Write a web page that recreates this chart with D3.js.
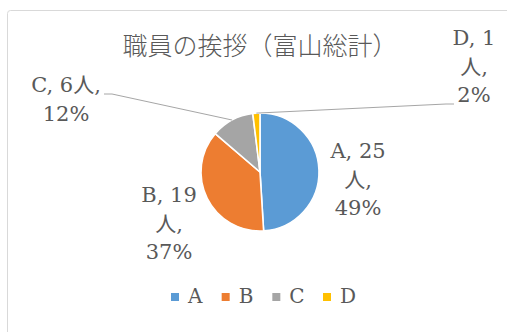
<!DOCTYPE html>
<html>
<head>
<meta charset="utf-8">
<script src="https://cdn.jsdelivr.net/npm/d3@7"></script>
<style>
  body { margin: 0; background: #fff; }
  svg { display: block; }
  text { fill: #595959; }
</style>
</head>
<body>
<div id="chart"></div>
<script>
// data
var categories = ["A", "B", "C", "D"];
var counts = [25, 19, 6, 1];
var unit = "人";
var title = "職員の挨拶（富山総計）";
var colors = ["#5B9BD5", "#ED7D31", "#A5A5A5", "#FFC000"];

var W = 507, H = 332;
var cx = 260, cy = 172, radius = 59;

// label placement relative to pie centre (x centre, first baseline)
var labelPos = {
  A: [98, -14],
  B: [-91, 30],
  C: [-194, -80],
  D: [214, -127]
};
// which parts of the label go on each line
var labelWrap = {
  A: [[0], [1], [2]],
  B: [[0], [1], [2]],
  C: [[0, 1], [2]],
  D: [[0], [1], [2]]
};
var lineH = 28.5;

var total = d3.sum(counts);
var dataset = categories.map(function(c, i) {
  return { cat: c, n: counts[i], pct: Math.round(counts[i] / total * 100) };
});

var svg = d3.select("#chart").append("svg")
  .attr("width", W)
  .attr("height", H);

// chart frame (runs past the right and bottom edge)
svg.append("rect")
  .attr("x", 7.5)
  .attr("y", 10.5)
  .attr("width", 600)
  .attr("height", 400)
  .attr("rx", 3)
  .attr("fill", "#fff")
  .attr("stroke", "#d9d9d9");

// title
svg.append("text")
  .attr("x", cx)
  .attr("y", 55)
  .attr("text-anchor", "middle")
  .style("font-family", "'Noto Sans CJK JP', sans-serif")
  .style("font-weight", 300)
  .style("font-size", "25px")
  .text(title);

var pie = d3.pie()
  .sort(null)
  .value(function(d) { return d.n; });

var arc = d3.arc()
  .innerRadius(0)
  .outerRadius(radius);

var edgeArc = d3.arc()
  .innerRadius(radius)
  .outerRadius(radius);

var color = d3.scaleOrdinal()
  .domain(categories)
  .range(colors);

var g = svg.append("g")
  .attr("transform", "translate(" + cx + "," + cy + ")");

var arcs = pie(dataset);

g.selectAll(".slice")
  .data(arcs)
.enter().append("path")
  .attr("class", "slice")
  .attr("d", arc)
  .attr("fill", function(d) { return color(d.data.cat); })
  .attr("stroke", "#fff")
  .attr("stroke-width", 1.6);

// leader lines for the outside labels (C and D), label end -> slice edge
var leaderStart = {
  C: [[-156, -78], [-148, -78]],
  D: [[194, -68], [186, -68]]
};
arcs.forEach(function(d) {
  if (!leaderStart[d.data.cat]) return;
  var pts = leaderStart[d.data.cat].concat([edgeArc.centroid(d)]);
  g.append("path")
    .attr("d", d3.line()(pts))
    .attr("fill", "none")
    .attr("stroke", "#a6a6a6")
    .attr("stroke-width", 1);
});

// data labels
arcs.forEach(function(d) {
  var c = d.data.cat;
  var parts = [c + ", " + d.data.n, unit + ",", d.data.pct + "%"];
  var lines = labelWrap[c].map(function(idx) {
    return idx.map(function(k) { return parts[k]; }).join("");
  });
  var t = g.append("text")
    .attr("text-anchor", "middle")
    .style("font-family", "'DejaVu Serif', 'Noto Sans CJK JP', serif")
    .style("font-size", "21px");
  lines.forEach(function(l, i) {
    t.append("tspan")
      .attr("x", labelPos[c][0])
      .attr("y", labelPos[c][1] + i * lineH)
      .text(l);
  });
});

// legend
var legendX = d3.scalePoint()
  .domain(categories)
  .range([171, 323]);

var leg = svg.selectAll(".legend")
  .data(categories)
.enter().append("g")
  .attr("class", "legend")
  .attr("transform", function(d) { return "translate(" + legendX(d) + ",293)"; });

leg.append("rect")
  .attr("width", 8)
  .attr("height", 8)
  .attr("fill", function(d) { return color(d); });

leg.append("text")
  .attr("x", 17)
  .attr("y", 10)
  .style("font-family", "'DejaVu Serif', serif")
  .style("font-size", "20px")
  .text(function(d) { return d; });
</script>
</body>
</html>
